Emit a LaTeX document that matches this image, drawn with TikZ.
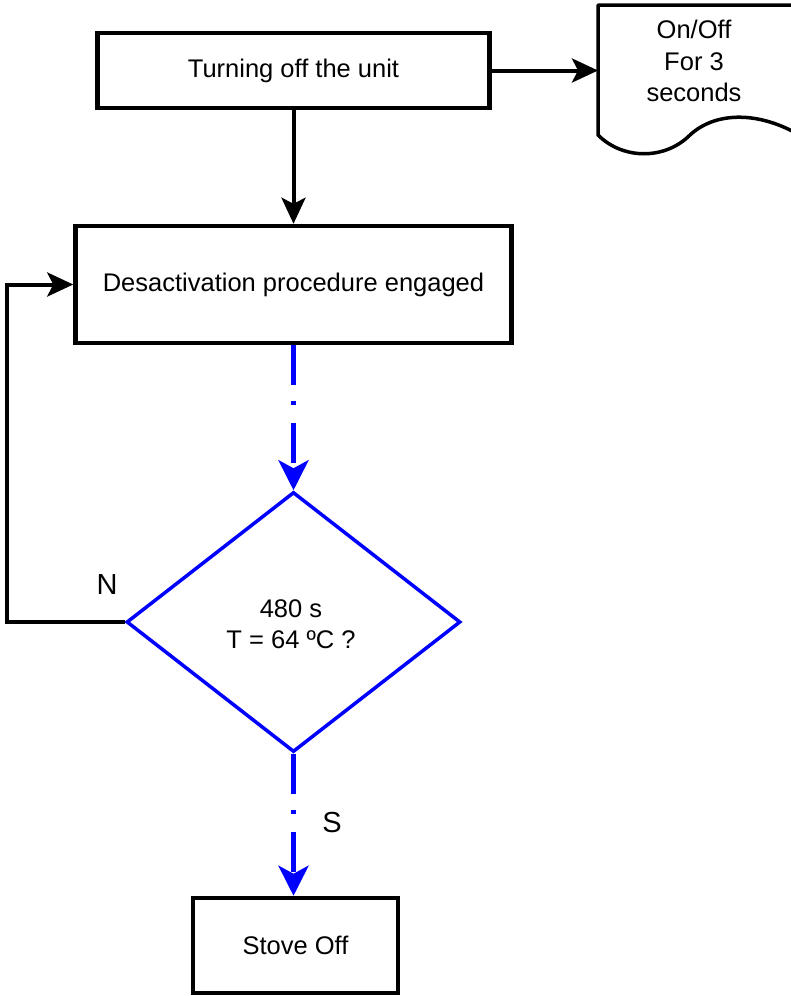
\documentclass[tikz,border=0pt]{standalone}
\usepackage{fontspec}
\setmainfont{Liberation Sans}
\usetikzlibrary{arrows.meta,shapes.geometric}
\definecolor{pureblue}{RGB}{0,0,255}
\tikzset{
  box/.style={draw=black, line width=4.5pt, minimum width=#1, inner sep=0pt, font=\fontsize{25.5}{31}\selectfont},
  blk/.style={draw=black, line width=4pt, -{Stealth[length=26pt,width=24pt,inset=6pt]}},
  bluearr/.style={draw=pureblue, line width=5pt, dash pattern=on 40pt off 16pt on 4pt off 18pt,
                  -{Stealth[length=30pt,width=30pt,inset=8pt]}},
  lbl/.style={font=\fontsize{29}{33}\selectfont, inner sep=0pt},
}
\begin{document}
\begin{tikzpicture}[x=1pt,y=-1pt]
\useasboundingbox (0,0) rectangle (790,996);
% boxes
\node[box=392pt, minimum height=75pt] (t1) at (293.5,70.5) {Turning off the unit};
\node[box=436pt, minimum height=117pt] (t2) at (293.5,284.5) {Desactivation procedure engaged};
\node[box=205pt, minimum height=95pt] (t3) at (295.5,945.5) {Stove Off};
\node[diamond, draw=pureblue, line width=3.5pt, minimum width=334pt, minimum height=260pt,
      aspect=1.285, inner sep=0pt] (d) at (293.5,622) {};
\node[align=center, font=\fontsize{25.5}{31}\selectfont, inner sep=0pt] (dt) at (291,624) {480 s\\T = 64 ºC ?};
% document shape
\draw[line width=3.5pt, line join=round] (792,5) -- (598,5) -- (598,135)
  .. controls (623,160) and (665,160) .. (690,135)
  .. controls (715,112) and (755,112) .. (792,131);
\node[align=center, font=\fontsize{25.5}{31.5}\selectfont, inner sep=0pt] (doc) at (694,61) {On/Off\\For 3\\seconds};
\coordinate (docw) at (598,70.5);
% connectors
\draw[blk] (t1.east) -- (docw);
\draw[blk] (t1.south) -- (t2.north);
\draw[bluearr] (t2.south) -- (d.north);
\draw[bluearr] (d.south) -- (d.south |- t3.north);
\draw[blk, line join=miter] (d.west) -- ++(-118,0) |- (t2.west);
% labels
\node[lbl] (n) at (107,585) {N};
\node[lbl] (s) at (332,823) {S};
\end{tikzpicture}
\end{document}
